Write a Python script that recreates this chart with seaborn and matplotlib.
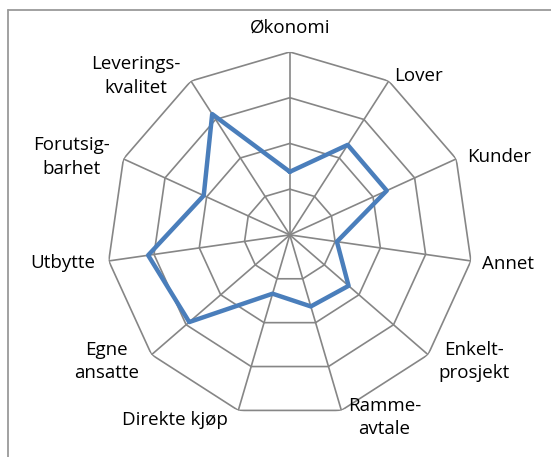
import numpy as np
import matplotlib
matplotlib.use("Agg")
import matplotlib.pyplot as plt
import seaborn as sns
from matplotlib.lines import Line2D

# Data (scale 0-4)
categories = ["Økonomi", "Lover", "Kunder", "Annet", "Enkelt-\nprosjekt", "Ramme-\navtale",
              "Direkte kjøp", "Egne\nansatte", "Utbytte", "Forutsig-\nbarhet", "Leverings-\nkvalitet"]
values = [1.38, 2.34, 2.33, 1.04, 1.70, 1.63, 1.34, 2.91, 3.13, 2.07, 3.14]
grid_levels = [1, 2, 3, 4]

# label offsets from the outer vertex (pixels)
label_offsets = [(0, 24), (30, 5), (43, 2), (37, -3), (46, -7), (43, -7),
                 (-63, -10), (-45, -7), (-46, -2), (-52, 2), (-55, 5)]

sns.set_theme(style="white")
plt.rcParams['font.family'] = ['Open Sans', 'DejaVu Sans']

fig = plt.figure(figsize=(5.51, 4.57), dpi=100)
ax = fig.add_axes([0.194, 0.0855, 0.664, 0.801], projection="polar")
ax.set_theta_zero_location("N")
ax.set_theta_direction(-1)

n = len(categories)
angles = np.arange(n) * 2 * np.pi / n
closed = np.append(angles, angles[0])

grid_col = "#868686"
# rings
for lev in grid_levels:
    ax.plot(closed, [lev] * (n + 1), color=grid_col, lw=1.2, zorder=1)
# spokes
for a in angles:
    ax.plot([a, a], [0, grid_levels[-1]], color=grid_col, lw=1.2, zorder=1)

# data series
sns.lineplot(x=closed, y=np.append(values, values[0]), sort=False, estimator=None,
             color="#4A7EBB", lw=3.2, ax=ax, zorder=3)

ax.set_ylim(0, grid_levels[-1])
ax.grid(False)
ax.spines["polar"].set_visible(False)
ax.set_xticks([])
ax.set_yticks([])
ax.set_xlabel("")
ax.set_ylabel("")
ax.patch.set_alpha(0)

for a, lab, off in zip(angles, categories, label_offsets):
    ax.annotate(lab, xy=(a, grid_levels[-1]), xytext=off, textcoords="offset pixels",
                ha="center", va="center", fontsize=13.5, linespacing=1.4,
                color="black", annotation_clip=False)

# chart border (top and left)
fig.add_artist(Line2D([7.5 / 551, 1], [1 - 9.5 / 457, 1 - 9.5 / 457],
                      transform=fig.transFigure, color="#9a9a9a", lw=1.3))
fig.add_artist(Line2D([7.5 / 551, 7.5 / 551], [0, 1 - 9.5 / 457],
                      transform=fig.transFigure, color="#9a9a9a", lw=1.3))

fig.savefig("out.png", dpi=100)
